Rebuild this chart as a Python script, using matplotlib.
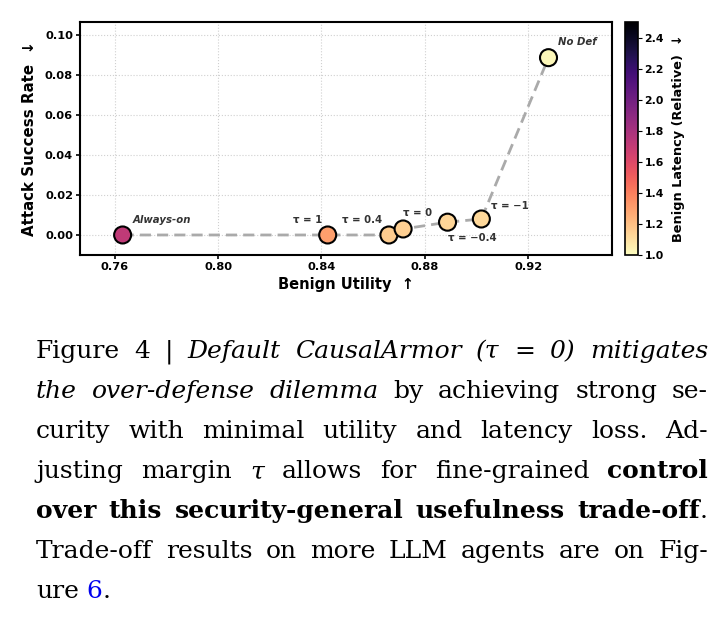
import matplotlib
matplotlib.use("Agg")
import matplotlib.pyplot as plt
import numpy as np
from matplotlib.colors import Normalize
from matplotlib import font_manager as fm

# ---- data ----
labels = ["Always-on", "τ = 1", "τ = 0.4", "τ = 0", "τ = −0.4", "τ = −1", "No Def"]
utility = [0.763, 0.8424, 0.8661, 0.8716, 0.8888, 0.9019, 0.9279]
asr = [0.0, 0.0, 0.0, 0.003, 0.0064, 0.008, 0.0887]
latency = [1.72, 1.30, 1.16, 1.15, 1.13, 1.12, 1.02]
xticks = [0.76, 0.80, 0.84, 0.88, 0.92]
yticks = [0.00, 0.02, 0.04, 0.06, 0.08, 0.10]
cbar_ticks = [1.0, 1.2, 1.4, 1.6, 1.8, 2.0, 2.2, 2.4]

fig = plt.figure(figsize=(7.15, 6.26), dpi=100)
ax = fig.add_axes([0.1119, 0.5927, 0.7441, 0.3717])
cax = fig.add_axes([0.874, 0.5927, 0.0178, 0.3717])

norm = Normalize(vmin=1.0, vmax=2.5)
cmap = plt.get_cmap("magma_r")

ax.plot(utility, asr, linestyle=(0, (4, 2.2)), color="#aaaaaa", lw=2, zorder=2)
sc = ax.scatter(utility, asr, c=latency, cmap=cmap, norm=norm, s=150,
                edgecolors="black", linewidths=1.5, zorder=3)

ax.set_xlim(0.7465, 0.9525)
ax.set_ylim(-0.010, 0.1064)
ax.set_xticks(xticks)
ax.set_xticklabels([f"{v:.2f}" for v in xticks])
ax.set_yticks(yticks)
ax.set_yticklabels([f"{v:.2f}" for v in yticks])
for lab in ax.get_xticklabels() + ax.get_yticklabels():
    lab.set_fontweight("bold")
    lab.set_fontsize(8.2)
ax.grid(True, linestyle=":", color="#d0d0d0", lw=0.8)
ax.set_axisbelow(True)
for s in ax.spines.values():
    s.set_linewidth(1.5)
ax.tick_params(width=1.2, length=3, pad=2)

ax.set_xlabel("Benign Utility  ↑", fontsize=10.5, fontweight="bold", labelpad=4)
ax.set_ylabel("Attack Success Rate  ↓", fontsize=10.8, fontweight="bold", labelpad=6)

# annotations: (dx, dy, ha, va, italic)
off = {
    "Always-on": (7, 7, "left", "bottom", True),
    "τ = 1": (-4, 7, "right", "bottom", False),
    "τ = 0.4": (-5, 7, "right", "bottom", False),
    "τ = 0": (0, 8, "left", "bottom", False),
    "τ = −0.4": (0, -8, "left", "top", False),
    "τ = −1": (7, 6, "left", "bottom", False),
    "No Def": (7, 8, "left", "bottom", True),
}
for lb, x, y in zip(labels, utility, asr):
    dx, dy, ha, va, it = off[lb]
    ax.annotate(lb, (x, y), xytext=(dx, dy), textcoords="offset points",
                ha=ha, va=va, fontsize=7.3, fontweight="bold",
                style="italic" if it else "normal", color="#333333")

cb = fig.colorbar(sc, cax=cax)
cb.set_ticks(cbar_ticks)
cb.ax.set_yticklabels([f"{v:.1f}" for v in cbar_ticks], fontsize=7.8, fontweight="bold")
cb.ax.tick_params(length=3, pad=2)
cb.set_label("Benign Latency (Relative)  ↓", fontsize=9.3, fontweight="bold", labelpad=6)
cb.outline.set_linewidth(1.2)

# ---- caption ----
fam = "DejaVu Serif"
for cand in ["DejaVu Serif Condensed", "Liberation Serif"]:
    try:
        p = fm.findfont(fm.FontProperties(family=cand), fallback_to_default=False)
        if cand.split()[-1].lower() in p.lower().replace("-", " ") or "condensed" in p.lower():
            fam = cand
            break
    except Exception:
        pass
    break

lines = [
    [[("Figure", "n")], [("4", "n")], [("|", "n")], [("Default", "i")], [("CausalArmor", "i")],
     [("(τ", "i")], [("=", "i")], [("0)", "i")], [("mitigates", "i")]],
    [[("the", "i")], [("over-defense", "i")], [("dilemma", "i")], [("by", "n")], [("achieving", "n")],
     [("strong", "n")], [("se-", "n")]],
    [[(w, "n")] for w in "curity with minimal utility and latency loss. Ad-".split()],
    [[("justing", "n")], [("margin", "n")], [("τ", "i")], [("allows", "n")], [("for", "n")],
     [("fine-grained", "n")], [("control", "b")]],
    [[(w, "b")] for w in "over this security-general usefulness".split()] + [[("trade-off", "b"), (".", "n")]],
    [[(w, "n")] for w in "Trade-off results on more LLM agents are on Fig-".split()],
    [[("ure", "n")], [("6", "blue"), (".", "n")]],
]
x0, x1 = 36, 708
y_base = [358, 398, 438, 478, 518, 558, 598]

fig.canvas.draw()
rend = fig.canvas.get_renderer()

def mk(txt, st, x, y, fs):
    kw = dict(fontsize=fs, family=fam, color="black")
    if st == "i":
        kw["style"] = "italic"
    elif st == "b":
        kw["weight"] = "bold"
    elif st == "blue":
        kw["color"] = "#0000ee"
    return fig.text(x / 715, 1 - y / 626, txt, ha="left", va="baseline", **kw)

def measure(words, fs):
    widths = []
    for w in words:
        tw = 0
        for txt, st in w:
            t = mk(txt, st, 0, 0, fs)
            tw += t.get_window_extent(renderer=rend).width
            t.remove()
        widths.append(tw)
    return widths

def space_width(fs):
    a = mk("a a", "n", 0, 0, fs)
    b = mk("aa", "n", 0, 0, fs)
    w = a.get_window_extent(renderer=rend).width - b.get_window_extent(renderer=rend).width
    a.remove(); b.remove()
    return w

FS0 = 18.0
sw0 = space_width(FS0)
scale = 1.0
for words in lines[:-1]:
    nat = sum(measure(words, FS0)) + sw0 * 0.7 * (len(words) - 1)
    scale = min(scale, (x1 - x0) / nat)
FS = FS0 * scale
sw = space_width(FS)

for li, (words, yb) in enumerate(zip(lines, y_base)):
    widths = measure(words, FS)
    gaps = len(words) - 1
    if li < len(lines) - 1 and gaps > 0:
        gap = (x1 - x0 - sum(widths)) / gaps
    else:
        gap = sw
    x = x0
    for w, wd in zip(words, widths):
        xx = x
        for txt, st in w:
            t = mk(txt, st, xx, yb, FS)
            xx += t.get_window_extent(renderer=rend).width
        x += wd + gap

fig.savefig("out.png", dpi=100)
